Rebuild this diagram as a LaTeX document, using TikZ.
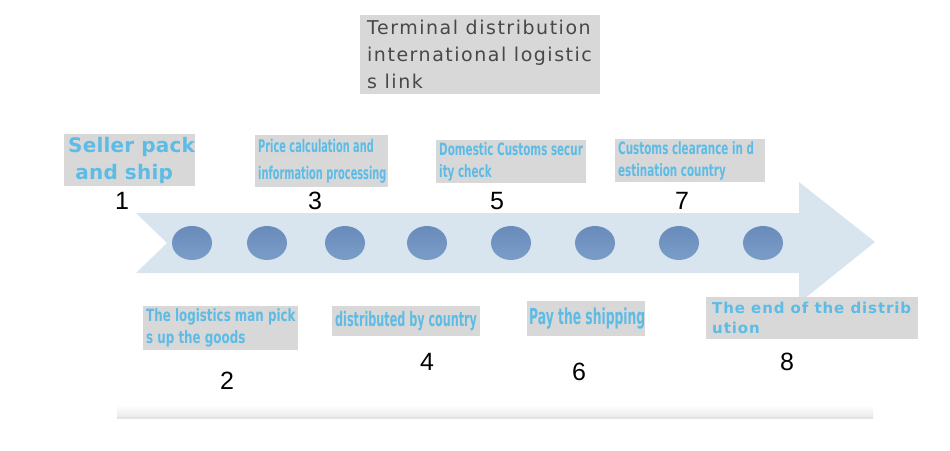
\documentclass[tikz,border=0pt]{standalone}
\usepackage{fontspec}
\setmainfont{Liberation Sans}
\newfontfamily\condA[FakeStretch=0.56]{DejaVu Sans}
\newfontfamily\condB[FakeStretch=0.61]{DejaVu Sans}
\newfontfamily\condC[FakeStretch=0.70]{DejaVu Sans}
\newfontfamily\wideA[LetterSpace=1]{DejaVu Sans}
\newfontfamily\wideB[LetterSpace=6]{DejaVu Sans}
\newfontfamily\titlefont[LetterSpace=8]{DejaVu Sans}
\definecolor{boxgray}{RGB}{216,216,216}
\definecolor{txtblue}{RGB}{92,188,230}
\definecolor{arrowc}{RGB}{216,229,238}
\definecolor{dotc}{RGB}{122,157,200}
\definecolor{dotd}{RGB}{104,139,186}
\definecolor{titletxt}{RGB}{72,72,72}
\usetikzlibrary{shapes.geometric}
\tikzset{
  box/.style={fill=boxgray, draw=none, inner sep=0pt, anchor=north west},
  txt/.style={text=txtblue, align=left, inner sep=0pt, anchor=west},
  num/.style={font=\fontsize{25}{25}\selectfont, text=black},
  dot/.style={ellipse, minimum width=40pt, minimum height=34pt, top color=dotd, bottom color=dotc, draw=none},
}
\begin{document}
\begin{tikzpicture}[x=1pt,y=-1pt]
\useasboundingbox (0,0) rectangle (950,450);
% bottom shadow
\shade[top color=white, bottom color=black!9] (117,405) rectangle (873,418);
\fill[black!11] (117,417) rectangle (873,419);
% arrow
\path[fill=arrowc] (136,213) -- (799,213) -- (799,182) -- (875,242) -- (799,303) -- (799,273) -- (136,273) -- (167,243) -- cycle;
% dots
\foreach \i/\x in {1/192,2/267,3/345,4/427,5/511,6/595,7/679,8/763}
  \node[dot] (d\i) at (\x,243) {};
% title
\node[box, minimum width=240pt, minimum height=79pt] (tb) at (360,15) {};
\node[txt, text=titletxt, font=\titlefont\fontsize{19}{27}\selectfont] (title) at ([xshift=7pt]tb.west) {Terminal distribution\\international logistic\\s link};
% upper labels
\node[box, minimum width=131pt, minimum height=52pt] (b1) at (64,134) {};
\node[txt, font=\wideA\bfseries\fontsize{20}{27}\selectfont] (l1) at ([xshift=4pt]b1.west) {Seller pack\\\ and ship};
\node[box, minimum width=133pt, minimum height=52pt] (b3) at (255,135) {};
\node[txt, font=\condA\bfseries\fontsize{17.5}{27}\selectfont] (l3) at ([xshift=3pt]b3.west) {Price calculation and\\information processing};
\node[box, minimum width=150pt, minimum height=43pt] (b5) at (436,140) {};
\node[txt, font=\condB\bfseries\fontsize{17}{22}\selectfont] (l5) at ([xshift=3pt]b5.west) {Domestic Customs secur\\ity check};
\node[box, minimum width=150pt, minimum height=43pt] (b7) at (615,139) {};
\node[txt, font=\condB\bfseries\fontsize{17}{22}\selectfont] (l7) at ([xshift=3pt]b7.west) {Customs clearance in d\\estination country};
% lower labels
\node[box, minimum width=155pt, minimum height=44pt] (b2) at (143,306) {};
\node[txt, font=\condC\bfseries\fontsize{17}{22}\selectfont] (l2) at ([xshift=3pt]b2.west) {The logistics man pick\\s up the goods};
\node[box, minimum width=148pt, minimum height=30pt] (b4) at (332,306) {};
\node[txt, font=\condA\bfseries\fontsize{20}{22}\selectfont] (l4) at ([xshift=3pt]b4.west) {distributed by country};
\node[box, minimum width=118pt, minimum height=35pt] (b6) at (527,301) {};
\node[txt, font=\condA\bfseries\fontsize{22}{24}\selectfont] (l6) at ([xshift=2pt]b6.west) {Pay the shipping};
\node[box, minimum width=212pt, minimum height=42pt] (b8) at (706,297) {};
\node[txt, font=\wideB\bfseries\fontsize{15}{20}\selectfont] (l8) at ([xshift=6pt]b8.west) {The end of the distrib\\ution};
% numbers
\node[num] (n1) at (122,201) {1};
\node[num] (n2) at (227,381) {2};
\node[num] (n3) at (315,201) {3};
\node[num] (n4) at (427,362) {4};
\node[num] (n5) at (497,201) {5};
\node[num] (n6) at (579,372) {6};
\node[num] (n7) at (682,201) {7};
\node[num] (n8) at (787,362) {8};
\end{tikzpicture}
\end{document}
